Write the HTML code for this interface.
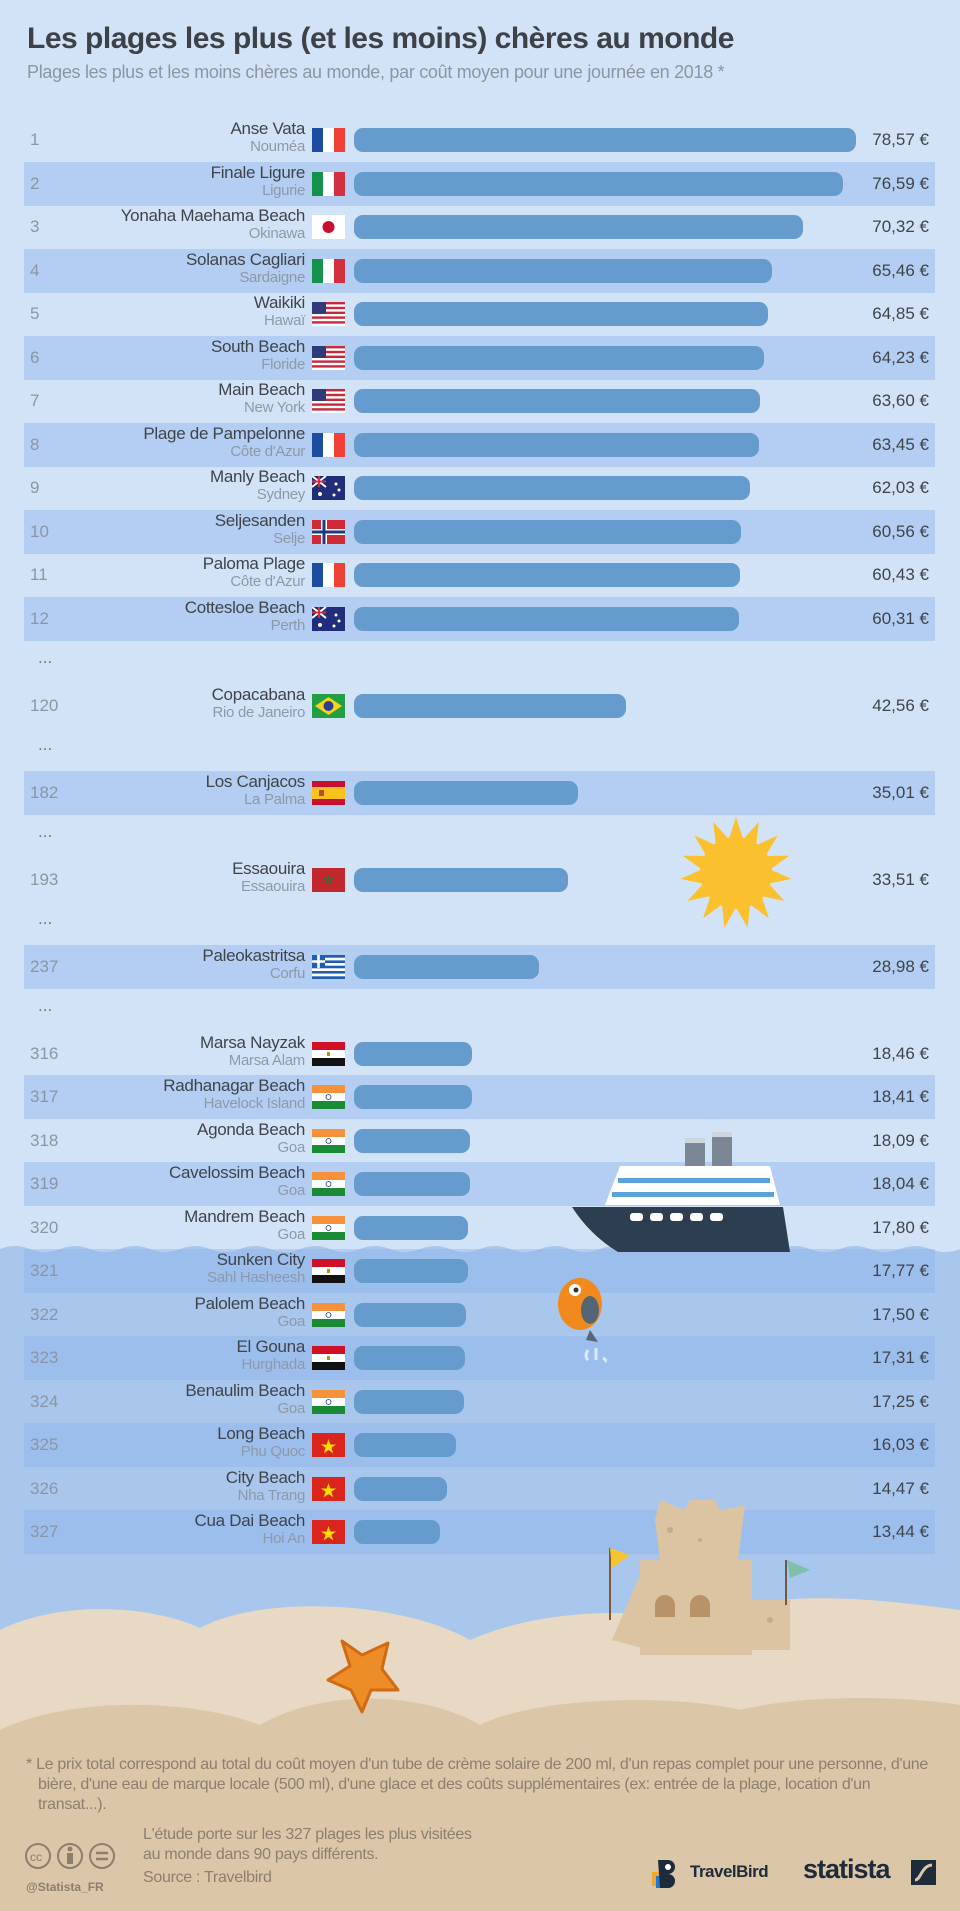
<!DOCTYPE html>
<html><head><meta charset="utf-8"><style>
*{margin:0;padding:0;box-sizing:border-box}
body{width:960px;height:1911px;position:relative;overflow:hidden;background:#d3e3f7;font-family:"Liberation Sans",sans-serif}
.abs{position:absolute}
.h1{left:27px;top:22px;font-size:30px;font-weight:bold;color:#3d4148;letter-spacing:-0.5px}
.h2{left:27px;top:62px;font-size:18px;color:#8b96a3;letter-spacing:-0.3px}
.r{position:absolute;left:24px;width:911px;height:43.5px}
.b{background:rgba(140,180,235,0.45)}
.n{position:absolute;left:6px;top:12px;font-size:17px;color:#8a96a4}
.t{position:absolute;right:630px;top:2px;text-align:right;white-space:nowrap;line-height:18px}
.t b{display:block;font-weight:normal;font-size:17px;color:#3f444b;letter-spacing:-0.3px}
.t i{display:block;font-style:normal;font-size:15px;color:#8d99a8;letter-spacing:-0.3px}
.f{position:absolute;left:288px;top:10px;width:33px;height:24px}
.bar{position:absolute;left:330px;top:10px;height:24px;border-radius:9px;background:#669ccd}
.v{position:absolute;right:6px;top:12px;font-size:17px;color:#3f444b}
.d{position:absolute;left:38px;font-size:17px;color:#6d7784}
.foot{color:#8c7f6e;font-size:16px;line-height:20px;letter-spacing:-0.3px}
</style></head><body>
<svg class="abs" style="left:0;top:0" width="960" height="1911">
<path d="M0 1249 q15 -6 30 0 t30 0 t30 0 t30 0 t30 0 t30 0 t30 0 t30 0 t30 0 t30 0 t30 0 t30 0 t30 0 t30 0 t30 0 t30 0 t30 0 t30 0 t30 0 t30 0 t30 0 t30 0 t30 0 t30 0 t30 0 t30 0 t30 0 t30 0 t30 0 t30 0 t30 0 t30 0 V1911 H0Z" fill="#a9c6ed"/>
<path d="M0 1630 C60 1600 150 1605 200 1628 C260 1595 400 1600 470 1640 C550 1605 650 1610 700 1622 C760 1590 850 1595 960 1610 V1911 H0Z" fill="#e7d9c4"/>
<path d="M0 1730 C60 1700 180 1695 260 1725 C330 1685 430 1695 480 1725 C540 1695 680 1695 740 1710 C800 1695 900 1695 960 1705 V1911 H0Z" fill="#dcc6a8"/>
</svg>

<div class="abs h1">Les plages les plus (et les moins) chères au monde</div>
<div class="abs h2">Plages les plus et les moins chères au monde, par coût moyen pour une journée en 2018 *</div>

<svg width="0" height="0" style="position:absolute"><defs>
<g id="FR"><rect width="11" height="24" fill="#1e4da0"/><rect x="11" width="11" height="24" fill="#fff"/><rect x="22" width="11" height="24" fill="#ef4135"/></g>
<g id="IT"><rect width="11" height="24" fill="#14924b"/><rect x="11" width="11" height="24" fill="#fff"/><rect x="22" width="11" height="24" fill="#d0313c"/></g>
<g id="JP"><rect width="33" height="24" fill="#fff"/><circle cx="16.5" cy="12" r="6" fill="#c8102e"/></g>
<g id="US"><rect width="33" height="24" fill="#fff"/><rect y="0" width="33" height="2.4" fill="#c8283c"/><rect y="4.8" width="33" height="2.4" fill="#c8283c"/><rect y="9.6" width="33" height="2.4" fill="#c8283c"/><rect y="14.4" width="33" height="2.4" fill="#c8283c"/><rect y="19.2" width="33" height="2.4" fill="#c8283c"/><rect width="14" height="12" fill="#2e3a7a"/></g>
<g id="AU"><rect width="33" height="24" fill="#1f2d7a"/><path d="M0 0L14 11M14 0L0 11" stroke="#fff" stroke-width="2"/><path d="M7 0V11M0 5.5H14" stroke="#d0313c" stroke-width="2"/><circle cx="24" cy="8" r="1.5" fill="#fff"/><circle cx="27" cy="14" r="1.5" fill="#fff"/><circle cx="22" cy="19" r="1.5" fill="#fff"/><circle cx="8" cy="18" r="2" fill="#fff"/></g>
<g id="NO"><rect width="33" height="24" fill="#cf2a36"/><path d="M12 0V24M0 12H33" stroke="#fff" stroke-width="6"/><path d="M12 0V24M0 12H33" stroke="#1f3a7a" stroke-width="3"/></g>
<g id="BR"><rect width="33" height="24" fill="#229e45"/><path d="M16.5 3L30 12L16.5 21L3 12Z" fill="#f8d21a"/><circle cx="16.5" cy="12" r="5" fill="#2a3f8f"/></g>
<g id="ES"><rect width="33" height="24" fill="#c8102e"/><rect y="6" width="33" height="12" fill="#f9c21c"/><rect x="7" y="9" width="5" height="6" fill="#b0503a"/></g>
<g id="MA"><rect width="33" height="24" fill="#c1272d"/><path d="M16.5 7L18.5 15L12 10H21L14.5 15Z" fill="none" stroke="#1a7a3e" stroke-width="1"/></g>
<g id="GR"><rect width="33" height="24" fill="#1f5eb3"/><rect y="2.7" width="33" height="2.7" fill="#fff"/><rect y="8" width="33" height="2.7" fill="#fff"/><rect y="13.3" width="33" height="2.7" fill="#fff"/><rect y="18.6" width="33" height="2.7" fill="#fff"/><rect width="13" height="13" fill="#1f5eb3"/><path d="M6.5 0V13M0 6.5H13" stroke="#fff" stroke-width="2.6"/></g>
<g id="EG"><rect width="33" height="8" fill="#ce1126"/><rect y="8" width="33" height="8" fill="#fff"/><rect y="16" width="33" height="8" fill="#111"/><rect x="15" y="10" width="3" height="4" fill="#c09300"/></g>
<g id="IN"><rect width="33" height="8" fill="#f7923a"/><rect y="8" width="33" height="8" fill="#fff"/><rect y="16" width="33" height="8" fill="#1a8a35"/><circle cx="16.5" cy="12" r="2.5" fill="none" stroke="#1a3a8f" stroke-width="0.8"/></g>
<g id="VN"><rect width="33" height="24" fill="#da251d"/><path d="M16.5 6L18.3 11.5H24L19.4 14.8L21.2 20.2L16.5 17L11.8 20.2L13.6 14.8L9 11.5H14.7Z" fill="#ffdd00"/></g>
</defs></svg>

<div class="r" style="top:118px"><span class="n">1</span><div class="t"><b>Anse Vata</b><i>Nouméa</i></div><svg class="f"><use href="#FR"/></svg><div class="bar" style="width:502px"></div><span class="v">78,57 €</span></div>
<div class="r b" style="top:162px"><span class="n">2</span><div class="t"><b>Finale Ligure</b><i>Ligurie</i></div><svg class="f"><use href="#IT"/></svg><div class="bar" style="width:489px"></div><span class="v">76,59 €</span></div>
<div class="r" style="top:205px"><span class="n">3</span><div class="t"><b>Yonaha Maehama Beach</b><i>Okinawa</i></div><svg class="f"><use href="#JP"/></svg><div class="bar" style="width:449px"></div><span class="v">70,32 €</span></div>
<div class="r b" style="top:249px"><span class="n">4</span><div class="t"><b>Solanas Cagliari</b><i>Sardaigne</i></div><svg class="f"><use href="#IT"/></svg><div class="bar" style="width:418px"></div><span class="v">65,46 €</span></div>
<div class="r" style="top:292px"><span class="n">5</span><div class="t"><b>Waikiki</b><i>Hawaï</i></div><svg class="f"><use href="#US"/></svg><div class="bar" style="width:414px"></div><span class="v">64,85 €</span></div>
<div class="r b" style="top:336px"><span class="n">6</span><div class="t"><b>South Beach</b><i>Floride</i></div><svg class="f"><use href="#US"/></svg><div class="bar" style="width:410px"></div><span class="v">64,23 €</span></div>
<div class="r" style="top:379px"><span class="n">7</span><div class="t"><b>Main Beach</b><i>New York</i></div><svg class="f"><use href="#US"/></svg><div class="bar" style="width:406px"></div><span class="v">63,60 €</span></div>
<div class="r b" style="top:423px"><span class="n">8</span><div class="t"><b>Plage de Pampelonne</b><i>Côte d'Azur</i></div><svg class="f"><use href="#FR"/></svg><div class="bar" style="width:405px"></div><span class="v">63,45 €</span></div>
<div class="r" style="top:466px"><span class="n">9</span><div class="t"><b>Manly Beach</b><i>Sydney</i></div><svg class="f"><use href="#AU"/></svg><div class="bar" style="width:396px"></div><span class="v">62,03 €</span></div>
<div class="r b" style="top:510px"><span class="n">10</span><div class="t"><b>Seljesanden</b><i>Selje</i></div><svg class="f"><use href="#NO"/></svg><div class="bar" style="width:387px"></div><span class="v">60,56 €</span></div>
<div class="r" style="top:553px"><span class="n">11</span><div class="t"><b>Paloma Plage</b><i>Côte d'Azur</i></div><svg class="f"><use href="#FR"/></svg><div class="bar" style="width:386px"></div><span class="v">60,43 €</span></div>
<div class="r b" style="top:597px"><span class="n">12</span><div class="t"><b>Cottesloe Beach</b><i>Perth</i></div><svg class="f"><use href="#AU"/></svg><div class="bar" style="width:385px"></div><span class="v">60,31 €</span></div>
<div class="d" style="top:648px">...</div>
<div class="r" style="top:684px"><span class="n">120</span><div class="t"><b>Copacabana</b><i>Rio de Janeiro</i></div><svg class="f"><use href="#BR"/></svg><div class="bar" style="width:272px"></div><span class="v">42,56 €</span></div>
<div class="d" style="top:735px">...</div>
<div class="r b" style="top:771px"><span class="n">182</span><div class="t"><b>Los Canjacos</b><i>La Palma</i></div><svg class="f"><use href="#ES"/></svg><div class="bar" style="width:224px"></div><span class="v">35,01 €</span></div>
<div class="d" style="top:822px">...</div>
<div class="r" style="top:858px"><span class="n">193</span><div class="t"><b>Essaouira</b><i>Essaouira</i></div><svg class="f"><use href="#MA"/></svg><div class="bar" style="width:214px"></div><span class="v">33,51 €</span></div>
<div class="d" style="top:909px">...</div>
<div class="r b" style="top:945px"><span class="n">237</span><div class="t"><b>Paleokastritsa</b><i>Corfu</i></div><svg class="f"><use href="#GR"/></svg><div class="bar" style="width:185px"></div><span class="v">28,98 €</span></div>
<div class="d" style="top:996px">...</div>
<div class="r" style="top:1032px"><span class="n">316</span><div class="t"><b>Marsa Nayzak</b><i>Marsa Alam</i></div><svg class="f"><use href="#EG"/></svg><div class="bar" style="width:118px"></div><span class="v">18,46 €</span></div>
<div class="r b" style="top:1075px"><span class="n">317</span><div class="t"><b>Radhanagar Beach</b><i>Havelock Island</i></div><svg class="f"><use href="#IN"/></svg><div class="bar" style="width:118px"></div><span class="v">18,41 €</span></div>
<div class="r" style="top:1119px"><span class="n">318</span><div class="t"><b>Agonda Beach</b><i>Goa</i></div><svg class="f"><use href="#IN"/></svg><div class="bar" style="width:116px"></div><span class="v">18,09 €</span></div>
<div class="r b" style="top:1162px"><span class="n">319</span><div class="t"><b>Cavelossim Beach</b><i>Goa</i></div><svg class="f"><use href="#IN"/></svg><div class="bar" style="width:116px"></div><span class="v">18,04 €</span></div>
<div class="r" style="top:1206px"><span class="n">320</span><div class="t"><b>Mandrem Beach</b><i>Goa</i></div><svg class="f"><use href="#IN"/></svg><div class="bar" style="width:114px"></div><span class="v">17,80 €</span></div>
<div class="r b" style="top:1249px"><span class="n">321</span><div class="t"><b>Sunken City</b><i>Sahl Hasheesh</i></div><svg class="f"><use href="#EG"/></svg><div class="bar" style="width:114px"></div><span class="v">17,77 €</span></div>
<div class="r" style="top:1293px"><span class="n">322</span><div class="t"><b>Palolem Beach</b><i>Goa</i></div><svg class="f"><use href="#IN"/></svg><div class="bar" style="width:112px"></div><span class="v">17,50 €</span></div>
<div class="r b" style="top:1336px"><span class="n">323</span><div class="t"><b>El Gouna</b><i>Hurghada</i></div><svg class="f"><use href="#EG"/></svg><div class="bar" style="width:111px"></div><span class="v">17,31 €</span></div>
<div class="r" style="top:1380px"><span class="n">324</span><div class="t"><b>Benaulim Beach</b><i>Goa</i></div><svg class="f"><use href="#IN"/></svg><div class="bar" style="width:110px"></div><span class="v">17,25 €</span></div>
<div class="r b" style="top:1423px"><span class="n">325</span><div class="t"><b>Long Beach</b><i>Phu Quoc</i></div><svg class="f"><use href="#VN"/></svg><div class="bar" style="width:102px"></div><span class="v">16,03 €</span></div>
<div class="r" style="top:1467px"><span class="n">326</span><div class="t"><b>City Beach</b><i>Nha Trang</i></div><svg class="f"><use href="#VN"/></svg><div class="bar" style="width:93px"></div><span class="v">14,47 €</span></div>
<div class="r b" style="top:1510px"><span class="n">327</span><div class="t"><b>Cua Dai Beach</b><i>Hoi An</i></div><svg class="f"><use href="#VN"/></svg><div class="bar" style="width:86px"></div><span class="v">13,44 €</span></div>

<svg class="abs" style="left:0;top:0" width="960" height="1911">
<g transform="translate(736,873)" fill="#fbc02d">
<circle r="36"/>
<g id="ray"><path d="M-7 -34 L0 -56 L7 -34Z"/></g>
<use href="#ray" transform="rotate(24)"/><use href="#ray" transform="rotate(48)"/><use href="#ray" transform="rotate(72)"/><use href="#ray" transform="rotate(96)"/><use href="#ray" transform="rotate(120)"/><use href="#ray" transform="rotate(144)"/><use href="#ray" transform="rotate(168)"/><use href="#ray" transform="rotate(192)"/><use href="#ray" transform="rotate(216)"/><use href="#ray" transform="rotate(240)"/><use href="#ray" transform="rotate(264)"/><use href="#ray" transform="rotate(288)"/><use href="#ray" transform="rotate(312)"/><use href="#ray" transform="rotate(336)"/>
</g>
<rect x="685" y="1138" width="20" height="28" fill="#7b8794"/><rect x="712" y="1132" width="20" height="34" fill="#7b8794"/>
<rect x="685" y="1138" width="20" height="5" fill="#cfd6dd"/><rect x="712" y="1132" width="20" height="5" fill="#cfd6dd"/>
<path d="M620 1166 H770 L780 1205 H605Z" fill="#fff"/>
<rect x="618" y="1178" width="152" height="5" fill="#5aa2dc"/><rect x="612" y="1192" width="162" height="5" fill="#5aa2dc"/>
<path d="M572 1207 H783 L790 1252 H618 Q590 1235 572 1207Z" fill="#2d3e50"/>
<rect x="630" y="1213" width="13" height="8" rx="3" fill="#fff"/><rect x="650" y="1213" width="13" height="8" rx="3" fill="#fff"/><rect x="670" y="1213" width="13" height="8" rx="3" fill="#fff"/><rect x="690" y="1213" width="13" height="8" rx="3" fill="#fff"/><rect x="710" y="1213" width="13" height="8" rx="3" fill="#fff"/>
<ellipse cx="580" cy="1304" rx="22" ry="26" fill="#f08a1c"/><ellipse cx="590" cy="1310" rx="9" ry="14" fill="#546576"/><circle cx="575" cy="1290" r="6" fill="#fff"/><circle cx="576" cy="1290" r="2.5" fill="#333"/>
<path d="M590 1330 l8 12 l-12 -2Z" fill="#546576"/>
<path d="M588 1350 q-4 6 0 10 M596 1348 v12 M603 1358 q4 2 2 4" stroke="#d8e8f8" stroke-width="3" fill="none"/>
<g fill="#dcc3a2">
<path d="M655 1520 L660 1500 L685 1510 L690 1500 L715 1500 L720 1510 L745 1505 L738 1560 L660 1560Z"/>
<rect x="640" y="1560" width="112" height="95"/>
<path d="M612 1640 L640 1575 L650 1650Z"/>
<path d="M752 1600 H790 V1650 H752Z"/>
</g>
<g fill="#c9ab86"><circle cx="670" cy="1530" r="3"/><circle cx="700" cy="1540" r="2"/><circle cx="770" cy="1620" r="3"/></g>
<path d="M610 1548 V1620" stroke="#7a5a3a" stroke-width="2"/><path d="M610 1548 L630 1555 L612 1568Z" fill="#f4c531"/>
<path d="M786 1560 V1605" stroke="#6a5a4a" stroke-width="2"/><path d="M787 1560 L810 1570 L790 1578Z" fill="#7ec0a9"/>
<path d="M655 1605 a10 10 0 0 1 20 0 v12 h-20z M690 1605 a10 10 0 0 1 20 0 v12 h-20z" fill="#b8936a"/>
<path d="M342 1641 L362 1655 L388 1643 L382 1669 L398 1690 L371 1690 L362 1712 L351 1690 L328 1680 L350 1666Z" fill="#ee8d27" stroke="#d06b12" stroke-width="3" stroke-linejoin="round"/>
</svg>

<div class="abs foot" style="left:26px;top:1755px;width:915px;padding-left:12px;text-indent:-12px">* Le prix total correspond au total du coût moyen d'un tube de crème solaire de 200 ml, d'un repas complet pour une personne, d'une bière, d'une eau de marque locale (500 ml), d'une glace et des coûts supplémentaires (ex: entrée de la plage, location d'un transat...).</div>
<div class="abs foot" style="left:143px;top:1825px">L'étude porte sur les 327 plages les plus visitées<br>au monde dans 90 pays différents.</div>
<div class="abs foot" style="left:143px;top:1868px">Source : Travelbird</div>
<svg class="abs" style="left:24px;top:1842px" width="96" height="34"><g fill="none" stroke="#8c7f6e" stroke-width="2"><circle cx="14" cy="14" r="12"/><circle cx="46" cy="14" r="12"/><circle cx="78" cy="14" r="12"/></g><text x="6" y="19" font-size="12" fill="#8c7f6e" font-family="Liberation Sans">cc</text><path d="M72 11h12M72 17h12" stroke="#8c7f6e" stroke-width="2.5"/><circle cx="46" cy="7" r="2.5" fill="#8c7f6e"/><rect x="43" y="11" width="6" height="11" fill="#8c7f6e"/></svg>
<div class="abs" style="left:26px;top:1880px;font-size:12px;font-weight:bold;color:#8c7f6e">@Statista_FR</div>
<svg class="abs" style="left:650px;top:1858px" width="28" height="32"><rect x="2" y="14" width="14" height="14" fill="#f3a72b"/><rect x="6" y="18" width="14" height="12" fill="#1f7ad1"/><path d="M8 2h10a7 7 0 0 1 0 14a7 7 0 0 1 0 14h-8z" fill="#1d2b3a"/><circle cx="18" cy="9" r="3" fill="#fff"/></svg>
<div class="abs" style="left:690px;top:1862px;font-size:17px;font-weight:bold;color:#1d2b3a;letter-spacing:-0.5px">TravelBird</div>
<div class="abs" style="left:803px;top:1854px;font-size:27px;font-weight:bold;color:#1d2b3a;letter-spacing:-1px">statista</div>
<svg class="abs" style="left:911px;top:1860px" width="25" height="25"><rect width="25" height="25" fill="#1d2b3a"/><path d="M4 20 C10 20 10 6 21 5" stroke="#dcc6a8" stroke-width="3" fill="none"/></svg>
</body></html>
